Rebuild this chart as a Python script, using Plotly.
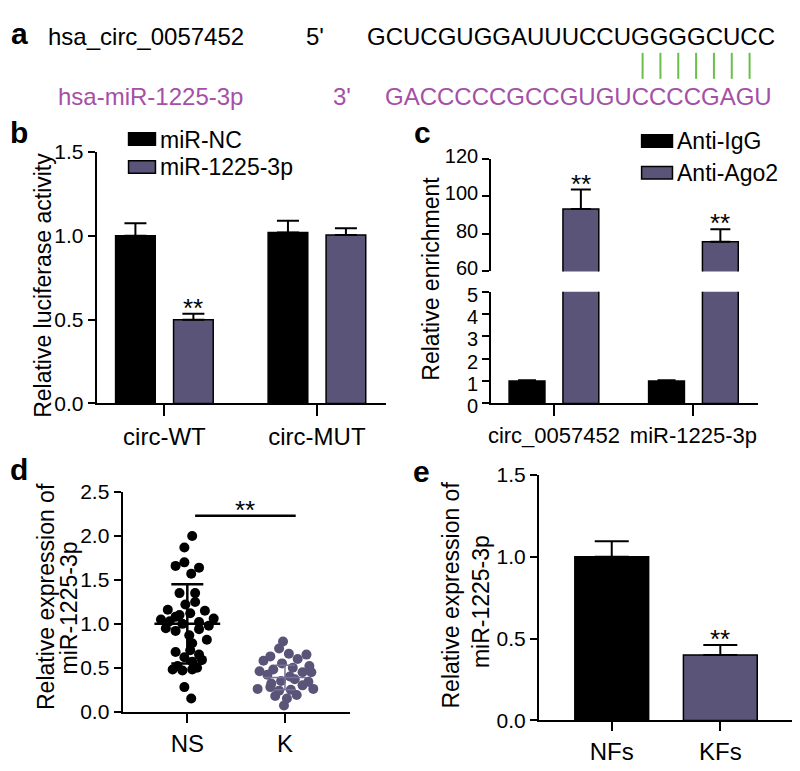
import plotly.graph_objects as go

# page body has an 8px default margin: the figure is drawn shifted by (8, 8)
OFF = 8
W, H = 792, 763
FONT = "Liberation Sans, Arial, sans-serif"
PURPLE = "#5b5479"
MAGENTA = "#a54fa7"
GREEN = "#6abf4b"

# ---------------- data ----------------
circ_name = "hsa_circ_0057452"
mir_name = "hsa-miR-1225-3p"
seq_circ = "GCUCGUGGAUUUCCUGGGGCUCC"
seq_mir = "GACCCCCGCCGUGUCCCCGAGU"
n_pairs = 7

b_categories = ["circ-WT", "circ-MUT"]
b_series = ["miR-NC", "miR-1225-3p"]
b_nc = [1.00, 1.02]
b_nc_err = [0.075, 0.07]
b_mir = [0.50, 1.005]
b_mir_err = [0.035, 0.04]
b_ticks = [0.0, 0.5, 1.0, 1.5]

c_categories = ["circ_0057452", "miR-1225-3p"]
c_series = ["Anti-IgG", "Anti-Ago2"]
c_igg = [1.0, 1.0]
c_igg_err = [0.04, 0.04]
c_ago2 = [93.3, 75.9]
c_ago2_err = [10.3, 6.6]
c_lower_ticks = [0, 1, 2, 3, 4, 5]
c_upper_ticks = [60, 80, 100, 120]

d_groups = ["NS", "K"]
d_ns = [2.00, 1.87, 1.66, 1.70, 1.64, 1.57, 1.35, 1.35, 1.22, 1.16,
        1.15, 1.12, 1.10, 1.05, 1.06, 1.03, 1.02, 1.00, 0.98, 0.95,
        0.92, 0.94, 0.87, 0.82, 0.78, 0.68, 0.70, 0.65, 0.59, 0.57,
        0.52, 0.48, 0.47, 0.48, 0.50, 0.28, 0.15, 1.08, 0.62, 1.25]
d_ns_xoffset = [0.05, -0.03, -0.12, -0.03, 0.12, 0.04, -0.08, 0.08, -0.02, -0.20,
                0.18, 0.03, -0.08, -0.27, 0.27, -0.18, 0.12, -0.05, 0.22, -0.22,
                -0.12, 0.12, 0.02, 0.20, 0.05, -0.12, 0.03, 0.12, 0.15, 0.05,
                -0.10, -0.15, -0.05, 0.05, 0.10, -0.03, 0.04, -0.12, -0.03, 0.08]
d_k = [0.80, 0.72, 0.66, 0.65, 0.63, 0.60, 0.58, 0.55, 0.50, 0.48,
       0.46, 0.45, 0.45, 0.42, 0.40, 0.37, 0.35, 0.34, 0.32, 0.30,
       0.28, 0.26, 0.26, 0.25, 0.24, 0.19, 0.18, 0.15, 0.07, 0.52]
d_k_xoffset = [-0.02, -0.06, 0.04, 0.22, -0.15, 0.13, -0.22, -0.03, 0.08, -0.12,
               -0.26, 0.18, 0.27, -0.18, 0.05, 0.10, -0.04, 0.24, -0.14, 0.18,
               -0.15, -0.28, 0.29, 0.06, -0.06, 0.12, -0.10, 0.02, -0.01, 0.25]
d_ns_mean, d_ns_sd = 1.00, 0.45
d_k_mean, d_k_sd = 0.39, 0.14
d_sig_y = 2.23

e_categories = ["NFs", "KFs"]
e_values = [1.00, 0.40]
e_err = [0.094, 0.06]
e_ticks = [0.0, 0.5, 1.0, 1.5]


def pxx(x):
    return (x - OFF) / W


def pyy(y):
    return 1 - (y - OFF) / H


fig = go.Figure()

# ---------------- panel b ----------------
BW = 0.26
B_OFF = 0.19
err_common = dict(type="data", symmetric=False, color="black", thickness=2)
fig.add_trace(go.Bar(x=b_categories, y=b_nc, name=b_series[0], width=BW, offset=-B_OFF - BW / 2,
                     marker=dict(color="black", line=dict(color="black", width=1.5)),
                     error_y=dict(array=b_nc_err, arrayminus=[0, 0], width=11, **err_common),
                     xaxis="x", yaxis="y", showlegend=False))
fig.add_trace(go.Bar(x=b_categories, y=b_mir, name=b_series[1], width=BW, offset=B_OFF - BW / 2,
                     marker=dict(color=PURPLE, line=dict(color="black", width=1.5)),
                     error_y=dict(array=b_mir_err, arrayminus=[0, 0], width=11, **err_common),
                     xaxis="x", yaxis="y", showlegend=False))

# ---------------- panel c (broken y axis: two stacked subplots) ----------------
CW = 0.257
C_OFF = 0.193
for ax_x, ax_y in (("x2", "y2"), ("x3", "y3")):
    fig.add_trace(go.Bar(x=c_categories, y=c_igg, name=c_series[0], width=CW, offset=-C_OFF - CW / 2,
                         marker=dict(color="black", line=dict(color="black", width=1.5)),
                         error_y=dict(array=c_igg_err, arrayminus=[0, 0], width=9, **err_common),
                         xaxis=ax_x, yaxis=ax_y, showlegend=False, cliponaxis=True))
    fig.add_trace(go.Bar(x=c_categories, y=c_ago2, name=c_series[1], width=CW, offset=C_OFF - CW / 2,
                         marker=dict(color=PURPLE, line=dict(color="black", width=1.5)),
                         error_y=dict(array=c_ago2_err, arrayminus=[0, 0], width=10, **err_common),
                         xaxis=ax_x, yaxis=ax_y, showlegend=False, cliponaxis=True))

# ---------------- panel d ----------------
ns_x = [0 + o for o in d_ns_xoffset]
k_x = [1 + o for o in d_k_xoffset]
fig.add_trace(go.Scatter(x=ns_x, y=d_ns, mode="markers", name=d_groups[0],
                         marker=dict(color="black", size=10, line=dict(width=0)),
                         xaxis="x4", yaxis="y4", showlegend=False))
fig.add_trace(go.Scatter(x=k_x, y=d_k, mode="markers", name=d_groups[1],
                         marker=dict(color=PURPLE, size=10, line=dict(width=0)),
                         xaxis="x4", yaxis="y4", showlegend=False))
fig.add_trace(go.Scatter(x=[0], y=[d_ns_mean], mode="markers",
                         marker=dict(symbol="line-ew", size=47, color="black", line=dict(color="black", width=2.5)),
                         error_y=dict(type="data", array=[d_ns_sd], color="black", thickness=2.5, width=16),
                         xaxis="x4", yaxis="y4", showlegend=False))
fig.add_trace(go.Scatter(x=[1], y=[d_k_mean], mode="markers",
                         marker=dict(symbol="line-ew", size=30, color="#77709a", line=dict(color="#77709a", width=1.5)),
                         error_y=dict(type="data", array=[d_k_sd], color="#77709a", thickness=1.5, width=10),
                         xaxis="x4", yaxis="y4", showlegend=False))

# ---------------- panel e ----------------
fig.add_trace(go.Bar(x=e_categories, y=e_values, width=0.68,
                     marker=dict(color=["black", PURPLE], line=dict(color="black", width=1.5)),
                     error_y=dict(array=e_err, arrayminus=[0, 0], width=17, **err_common),
                     xaxis="x5", yaxis="y5", showlegend=False))

# ---------------- axes ----------------
tickfont = dict(family=FONT, size=21, color="black")
ctickfont = dict(family=FONT, size=20, color="black")
axis_common = dict(showline=True, linecolor="black", linewidth=2, ticks="outside",
                   tickwidth=2, tickcolor="black", showgrid=False, zeroline=False,
                   fixedrange=True)


def xdom(a, b):
    return [pxx(a), pxx(b)]


def ydom(bottom, top):
    return [pyy(bottom), pyy(top)]


def catfont(size):
    return dict(family=FONT, size=size, color="black")


layout_axes = dict(
    xaxis=dict(domain=xdom(94, 384), anchor="y", type="category", range=[-0.444, 1.45],
               ticklen=11, tickfont=catfont(24), **axis_common),
    yaxis=dict(domain=ydom(404, 143), anchor="x", range=[0, 1.5], tickvals=b_ticks,
               tickformat=".1f", ticklen=7, tickfont=tickfont, **axis_common),
    xaxis2=dict(domain=xdom(490, 758), anchor="y2", type="category", range=[-0.45, 1.464],
                ticklen=11, tickfont=catfont(22), **axis_common),
    yaxis2=dict(domain=ydom(404, 288), anchor="x2", range=[0, 5], tickvals=c_lower_ticks,
                ticklen=7, tickfont=ctickfont, ticklabelshift=3, **axis_common),
    xaxis3=dict(domain=xdom(490, 758), anchor="y3", type="category", range=[-0.45, 1.464],
                visible=False, fixedrange=True),
    yaxis3=dict(domain=ydom(267, 150), anchor="x3", range=[60, 120], tickvals=c_upper_ticks,
                ticklen=7, tickfont=ctickfont, ticklabelshift=-3, **axis_common),
    xaxis4=dict(domain=xdom(120, 348), anchor="y4", range=[-0.663, 1.663], tickvals=[0, 1],
                ticktext=d_groups, ticklen=9, tickfont=catfont(24), **axis_common),
    yaxis4=dict(domain=ydom(724, 496), anchor="x4", range=[0, 2.5], tickvals=[0, 0.5, 1, 1.5, 2, 2.5],
                tickformat=".1f", ticklen=7, tickfont=tickfont, **axis_common),
    xaxis5=dict(domain=xdom(538, 795), anchor="y5", type="category", range=[-0.67, 1.688],
                ticklen=9, tickfont=catfont(24), **axis_common),
    yaxis5=dict(domain=ydom(733, 478), anchor="x5", range=[0, 1.5], tickvals=e_ticks,
                tickformat=".1f", ticklen=7, tickfont=tickfont, **axis_common),
)

annotations = []
shapes = []


def ann(text, x, y, size=23, color="black", bold=False, xanchor="left", yanchor="middle", angle=0, **kw):
    t = "<b>%s</b>" % text if bold else text
    d = dict(text=t, x=pxx(x), y=pyy(y), xref="paper", yref="paper", showarrow=False,
             xanchor=xanchor, yanchor=yanchor, textangle=angle,
             font=dict(family=FONT, size=size, color=color))
    d.update(kw)
    annotations.append(d)


# panel letters
ann("a", 6, 20, size=30, bold=True)
ann("b", 5, 123, size=30, bold=True)
ann("c", 411, 123, size=30, bold=True)
ann("d", 5, 473, size=30, bold=True)
ann("e", 410, 475, size=30, bold=True)

# panel a text
ann(circ_name, 43, 23, size=24)
ann("5'", 302, 23, size=24)
ann(seq_circ, 777, 23, size=24, xanchor="right")
ann(mir_name, 53, 85, size=24, color=MAGENTA)
ann("3'", 329, 85, size=24, color=MAGENTA)
ann(seq_mir, 774, 85, size=24, color=MAGENTA, xanchor="right")
pair_x0, pair_dx = 642, 17.9
for i in range(n_pairs):
    xx = pair_x0 + i * pair_dx
    shapes.append(dict(type="line", xref="paper", yref="paper", x0=pxx(xx), x1=pxx(xx),
                       y0=pyy(40), y1=pyy(67), line=dict(color=GREEN, width=2)))


# legends (b, c)
def legend_box(x0, y0, x1, y1, color):
    shapes.append(dict(type="rect", xref="paper", yref="paper", x0=pxx(x0), x1=pxx(x1),
                       y0=pyy(y1), y1=pyy(y0), fillcolor=color, line=dict(color="black", width=1.5)))


legend_box(126, 123, 153, 136, "black")
legend_box(126, 152, 153, 165, PURPLE)
ann(b_series[0], 156, 130)
ann(b_series[1], 156, 159)
legend_box(641, 125, 672, 138, "black")
legend_box(641, 158, 672, 171, PURPLE)
ann(c_series[0], 675, 132)
ann(c_series[1], 675, 165)

# axis titles
ann("Relative luciferase activity", 40, 281, xanchor="center", angle=-90)
ann("Relative enrichment", 430, 274, xanchor="center", angle=-90)
ann("Relative expression of", 43, 604, xanchor="center", angle=-90)
ann("miR-1225-3p", 66, 616, xanchor="center", angle=-90)
ann("Relative expression of", 450, 603, xanchor="center", angle=-90)
ann("miR-1225-3p", 480, 610, xanchor="center", angle=-90)


# significance marks
def stars(xref, yref, x, y):
    annotations.append(dict(text="**", x=x, y=y, xref=xref, yref=yref, showarrow=False,
                            xanchor="center", yanchor="bottom", yshift=-11,
                            font=dict(family=FONT, size=26, color="black")))


stars("x", "y", 0 + B_OFF, b_mir[0] + b_mir_err[0])
for i in range(2):
    stars("x3", "y3", i + C_OFF, c_ago2[i] + c_ago2_err[i])
stars("x5", "y5", 1, e_values[1] + e_err[1])
stars("x4", "y4", 0.59, d_sig_y)
shapes.append(dict(type="line", xref="x4", yref="y4", x0=0.08, x1=1.11, y0=d_sig_y, y1=d_sig_y,
                   line=dict(color="black", width=2.5)))

fig.update_layout(
    width=W, height=H, margin=dict(l=0, r=0, t=0, b=0),
    paper_bgcolor="white", plot_bgcolor="rgba(0,0,0,0)",
    barmode="overlay", showlegend=False,
    font=dict(family=FONT, size=21, color="black"),
    annotations=annotations, shapes=shapes,
    **layout_axes,
)

fig.write_html("out.html", config={"displayModeBar": False})
